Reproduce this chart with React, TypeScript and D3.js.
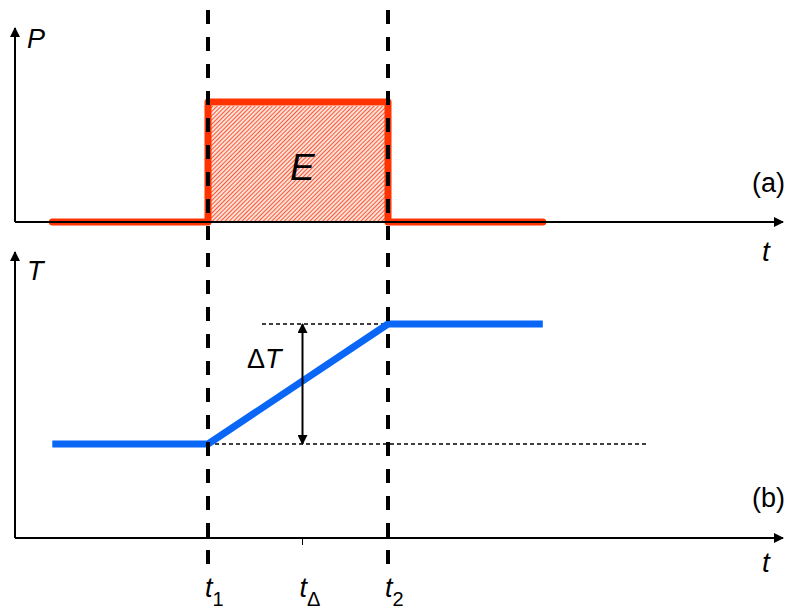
import { useEffect, useRef } from 'react'
import * as d3 from 'd3'

// time marks (arbitrary units)
const tStart = 0.27
const t1 = 2
const t2 = 4
const tEnd = 5.72
const tDelta = 3.05
const tRefEnd = 6.9
const tRefStart = 2.6

// power pulse (a)
const powerTimes = [tStart, t1, t1, t2, t2, tEnd]
const powerValues = [0, 0, 1, 1, 0, 0]

// temperature ramp (b)
const tempTimes = [tStart, t1, t2, tEnd]
const tempValues = [0, 0, 1, 1]

const panelLabels = ['(a)', '(b)']

export default function App() {
    const ref = useRef<SVGSVGElement>(null)

    useEffect(() => {
        const svg = d3.select(ref.current)
        svg.selectAll('*').remove()

        const x = d3.scaleLinear().domain([0, 8]).range([28, 748])
        const yP = d3.scaleLinear().domain([0, 1]).range([222, 102])
        const yT = d3.scaleLinear().domain([0, 1]).range([444, 324])
        const axisLeftX = 15
        const axisRightX = 783
        const bottomB = 538

        const font = 'Liberation Sans, Arial, sans-serif'
        const red = '#ff3300'
        const blue = '#0a66f5'

        const defs = svg.append('defs')
        defs.append('marker')
            .attr('id', 'arrow')
            .attr('viewBox', '0 0 10 10')
            .attr('refX', 9)
            .attr('refY', 5)
            .attr('markerWidth', 10)
            .attr('markerHeight', 10)
            .attr('markerUnits', 'userSpaceOnUse')
            .attr('orient', 'auto-start-reverse')
            .append('path')
            .attr('d', 'M0,0 L10,5 L0,10 Z')
            .attr('fill', 'black')

        const pat = defs.append('pattern')
            .attr('id', 'hatch')
            .attr('patternUnits', 'userSpaceOnUse')
            .attr('width', 3)
            .attr('height', 3)
            .attr('patternTransform', 'rotate(45)')
        pat.append('rect').attr('width', 3).attr('height', 3).attr('fill', '#fde0d8')
        pat.append('line')
            .attr('x1', 0).attr('y1', 0).attr('x2', 0).attr('y2', 3)
            .attr('stroke', '#fa4a24')
            .attr('stroke-width', 1.8)

        // hatched energy area
        svg.append('rect')
            .attr('x', x(t1) + 3)
            .attr('y', yP(1) + 4)
            .attr('width', x(t2) - x(t1) - 6)
            .attr('height', yP(0) - yP(1) - 4)
            .attr('fill', 'url(#hatch)')

        // power line
        const line = d3.line<number>()
        svg.append('path')
            .attr('d', line(powerTimes.map((t, i) => [x(t), yP(powerValues[i])])))
            .attr('fill', 'none')
            .attr('stroke', red)
            .attr('stroke-width', 7)
            .attr('stroke-linejoin', 'round')
            .attr('stroke-linecap', 'round')

        // temperature reference dashes
        svg.append('line')
            .attr('x1', x(t1)).attr('x2', x(tRefEnd))
            .attr('y1', yT(0)).attr('y2', yT(0))
            .attr('stroke', 'black').attr('stroke-width', 1.5)
            .attr('stroke-dasharray', '4 3')
        svg.append('line')
            .attr('x1', x(tRefStart)).attr('x2', x(t2))
            .attr('y1', yT(1)).attr('y2', yT(1))
            .attr('stroke', 'black').attr('stroke-width', 1.5)
            .attr('stroke-dasharray', '4 3')

        // temperature line
        svg.append('path')
            .attr('d', line(tempTimes.map((t, i) => [x(t), yT(tempValues[i])])))
            .attr('fill', 'none')
            .attr('stroke', blue)
            .attr('stroke-width', 7)
            .attr('stroke-linejoin', 'round')

        // delta T arrow
        svg.append('line')
            .attr('x1', x(tDelta)).attr('x2', x(tDelta))
            .attr('y1', yT(0)).attr('y2', yT(1))
            .attr('stroke', 'black').attr('stroke-width', 2)
            .attr('marker-start', 'url(#arrow)')
            .attr('marker-end', 'url(#arrow)')

        // axes
        const axes = [
            { base: yP(0), top: 28 },
            { base: bottomB, top: 252 },
        ]
        axes.forEach(a => {
            svg.append('line')
                .attr('x1', axisLeftX).attr('x2', axisLeftX)
                .attr('y1', a.base).attr('y2', a.top)
                .attr('stroke', 'black').attr('stroke-width', 2)
                .attr('marker-end', 'url(#arrow)')
            svg.append('line')
                .attr('x1', axisLeftX).attr('x2', axisRightX)
                .attr('y1', a.base).attr('y2', a.base)
                .attr('stroke', 'black').attr('stroke-width', 2)
                .attr('marker-end', 'url(#arrow)')
        })

        // tick at t delta
        svg.append('line')
            .attr('x1', x(tDelta)).attr('x2', x(tDelta))
            .attr('y1', bottomB).attr('y2', bottomB + 7)
            .attr('stroke', 'black').attr('stroke-width', 1)

        // vertical dashed markers
        ;[t1, t2].forEach(t => {
            svg.append('line')
                .attr('x1', x(t)).attr('x2', x(t))
                .attr('y1', 10).attr('y2', 564)
                .attr('stroke', 'black').attr('stroke-width', 4)
                .attr('stroke-dasharray', '14 13')
        })

        // labels
        const text = (tx: number, ty: number, s: string, size: number, italic = true) =>
            svg.append('text')
                .attr('x', tx).attr('y', ty)
                .attr('font-family', font)
                .attr('font-size', size)
                .attr('font-style', italic ? 'italic' : 'normal')
                .text(s)

        text(27, 48, 'P', 27)
        text(27, 280, 'T', 27)
        text(x(3) - 8, 180, 'E', 37)
        text(762, 261, 't', 28)
        text(762, 572, 't', 28)
        text(752, 192, panelLabels[0], 27, false)
        text(752, 507, panelLabels[1], 27, false)

        const dt = svg.append('text')
            .attr('x', 247).attr('y', 368)
            .attr('font-family', font)
            .attr('font-size', 27)
        dt.append('tspan').text('\u0394')
        dt.append('tspan').attr('font-style', 'italic').text('T')

        const subs = [
            { t: t1, s: '1' },
            { t: tDelta, s: '\u0394' },
            { t: t2, s: '2' },
        ]
        subs.forEach(d => {
            const el = svg.append('text')
                .attr('x', x(d.t) - 3).attr('y', 597)
                .attr('font-family', font)
                .attr('font-size', 27)
            el.append('tspan').attr('font-style', 'italic').text('t')
            el.append('tspan').attr('font-size', 20).attr('dy', 9).text(d.s)
        })
    }, [])

    return <svg ref={ref} width={789} height={610} style={{ position: 'absolute', left: 0, top: 0 }} />
}
